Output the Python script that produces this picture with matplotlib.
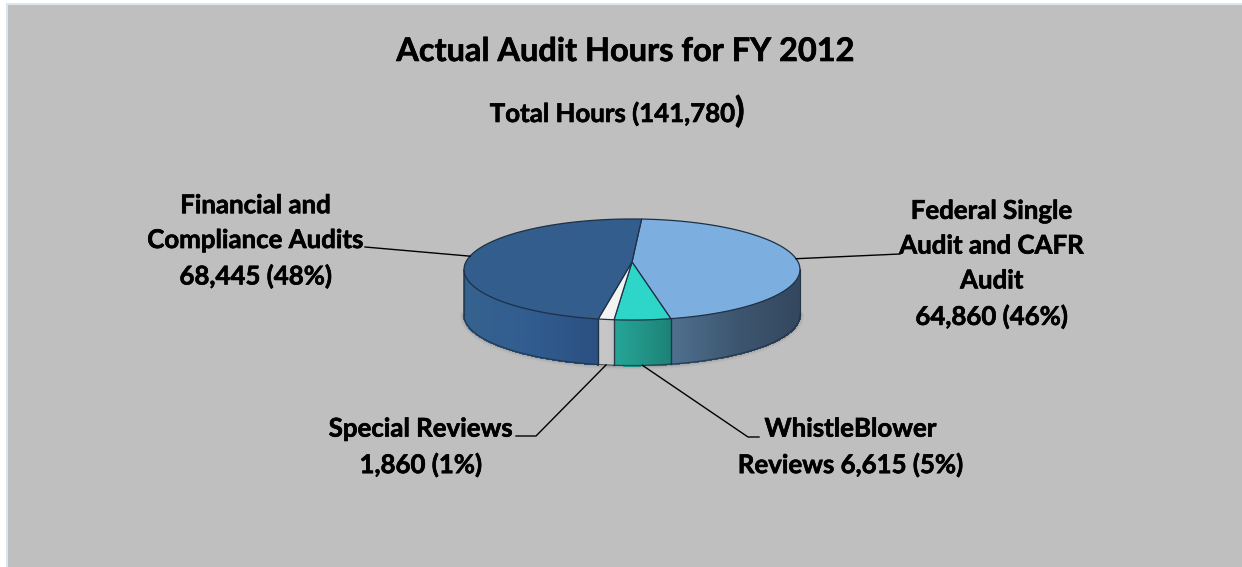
import numpy as np
import matplotlib
matplotlib.use("Agg")
import matplotlib.pyplot as plt
import matplotlib.patheffects as pe
from matplotlib.collections import PolyCollection
from matplotlib.colors import to_rgb
from matplotlib.patches import Polygon, Rectangle

categories = ["Federal Single\nAudit and CAFR\nAudit", "WhistleBlower\nReviews", "Special Reviews", "Financial and\nCompliance Audits"]
hours = [64860, 6615, 1860, 68445]
percents = [46, 5, 1, 48]
label_text = [
    "Federal Single\nAudit and CAFR\nAudit\n64,860 (46%)",
    "WhistleBlower\nReviews 6,615 (5%)",
    "Special Reviews\n1,860 (1%)",
    "Financial and\nCompliance Audits\n68,445 (48%)",
]
top_colors = ["#7cafe0", "#2dd6c9", "#f3f3f3", "#335d8c"]
side_colors = [
    ["#4f7090", "#3d566f", "#33475e"],
    ["#25a596", "#219487", "#1d8176"],
    ["#c6c6c6", "#c6c6c6", "#c2c2c2"],
    ["#36628f", "#305c90", "#2b4f80"],
]

# Pie geometry in pixels, with a one-point perspective on the disc
CX, CY = 632.0, 262.0
AX_R, AY_R = 166.1, 49.4
PERSP = 0.1485
DEPTH = 45.5
START = 3.8

plt.rcParams["font.family"] = ["Lato", "DejaVu Sans"]
plt.rcParams["font.weight"] = "bold"

fig = plt.figure(figsize=(12.42, 5.67), dpi=100, facecolor="white")
ax = fig.add_axes([0, 0, 1, 1])
ax.set_xlim(0, 1242)
ax.set_ylim(567, 0)
ax.axis("off")

ax.add_patch(Rectangle((6, 3), 1240, 570, fc="#dce6f1", ec="none", zorder=0))
ax.add_patch(Rectangle((8, 5), 1240, 570, fc="#bfbfbf", ec="none", zorder=0))


def project(theta_deg):
    t = np.radians(theta_deg)
    s, c = np.sin(t), np.cos(t)
    w = 1 + PERSP * c
    return CX + AX_R * s / w, CY - AY_R * c / w


def mix(stops, f):
    stops = np.array([to_rgb(c) for c in stops])
    pos = f * (len(stops) - 1)
    i = min(int(pos), len(stops) - 2)
    return stops[i] + (stops[i + 1] - stops[i]) * (pos - i)


totals = np.cumsum([0] + hours) / sum(hours) * 360 + START
front_a = np.degrees(np.arccos(-PERSP))
front_b = 360 - front_a

# Soft shadow hugging the lower rim
rim = np.linspace(front_a, front_b, 200)
rx, ry = project(rim)
for width, alpha in [(6, 0.04), (4, 0.06), (2.5, 0.08)]:
    ax.plot(rx, ry + DEPTH, color="#303030", lw=width, alpha=alpha, zorder=1, solid_capstyle="round")

# Side wall, one thin strip per step so each wedge carries a gradient
for i in range(4):
    a0, a1 = max(totals[i], front_a), min(totals[i + 1], front_b)
    if a1 <= a0:
        continue
    steps = np.linspace(a0, a1, 90)
    px, py = project(steps)
    quads, cols = [], []
    for j in range(len(steps) - 1):
        quads.append([(px[j], py[j]), (px[j + 1], py[j + 1]),
                       (px[j + 1], py[j + 1] + DEPTH), (px[j], py[j] + DEPTH)])
        cols.append(mix(side_colors[i], (px[j] - px.min()) / (px.max() - px.min())))
    ax.add_collection(PolyCollection(quads, facecolors=cols, edgecolors=cols, linewidths=0.8,
                                     antialiaseds=False, zorder=2))
    ax.plot(px, py + DEPTH, color="#1f2f40", lw=0.9, alpha=0.75, zorder=3)
    for edge in (0, -1):
        ax.plot([px[edge]] * 2, [py[edge], py[edge] + DEPTH], color="#1c3040", lw=0.9, alpha=0.7, zorder=3)

# Top face of each wedge
for i in range(4):
    steps = np.linspace(totals[i], totals[i + 1], 200)
    px, py = project(steps)
    pts = np.column_stack([np.r_[CX, px], np.r_[CY, py]])
    ax.add_patch(Polygon(pts, closed=True, fc=top_colors[i], ec="#1d3045", lw=0.9, joinstyle="round", zorder=4))


def anchor(i, on_wall=False):
    x, y = project((totals[i] + totals[i + 1]) / 2)
    return float(x), float(y + (DEPTH if on_wall else 0))


# Leader lines run from each wedge's mid-angle out to its label
leaders = [
    (anchor(0), [(900, 254)]),
    (anchor(1, True), [(748, 437), (759, 437)]),
    (anchor(2, True), [(536, 436), (516, 436)]),
    (anchor(3), [(365, 247)]),
]
for start, rest in leaders:
    xs, ys = zip(start, *rest)
    ax.plot(xs, ys, color="black", lw=1.0, zorder=5)

LABEL_SIZE = 18.6
heavier = [pe.withStroke(linewidth=0.45, foreground="black")]
ax.text(625.5, 51.5, "Actual Audit Hours for FY 2012", ha="center", va="center", fontsize=23.4,
        path_effects=heavier, zorder=6)
ax.text(736, 122, "Total Hours (141,780", ha="right", va="baseline", fontsize=LABEL_SIZE,
        path_effects=heavier, zorder=6)
ax.text(735, 122, ")", ha="left", va="baseline", fontsize=25, path_effects=heavier, zorder=6)

label_pos = [(992, 264), (851, 447), (421, 447), (256, 241)]
for text, (x, y) in zip(label_text, label_pos):
    ax.text(x, y, text, ha="center", va="center", fontsize=LABEL_SIZE, linespacing=1.54,
            path_effects=heavier, zorder=6)

fig.savefig("out.png", dpi=100, facecolor=fig.get_facecolor())
